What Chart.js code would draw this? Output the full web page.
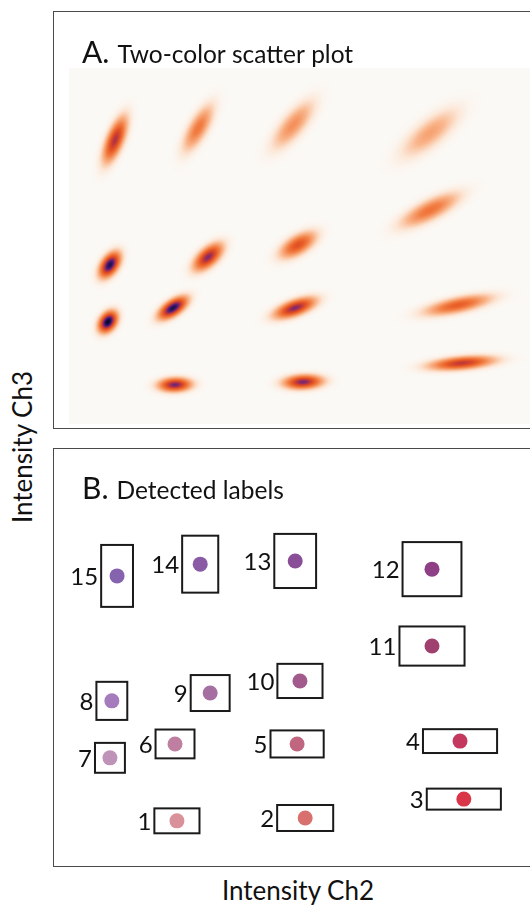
<!DOCTYPE html>
<html>
<head>
<meta charset="utf-8">
<script src="https://cdn.jsdelivr.net/npm/chart.js@4/dist/chart.umd.min.js"></script>
<style>
html,body{margin:0;padding:0;background:#fff;overflow:hidden;width:530px;height:906px}
#wrap{position:relative;width:530px;height:906px;overflow:hidden}
canvas{position:absolute}
.frame{position:absolute;box-sizing:border-box;border:1.5px solid #4a4a4a;pointer-events:none}
.atitle{position:absolute;font-family:Lato,sans-serif;font-size:26px;color:#111;white-space:nowrap;line-height:26px}
</style>
</head>
<body>
<div id="wrap">
<canvas id="chartA" width="490" height="416" style="left:54px;top:12px"></canvas>
<canvas id="chartB" width="490" height="416" style="left:56px;top:448px"></canvas>
<div class="frame" style="left:53px;top:11px;width:520px;height:418px"></div>
<div class="frame" style="left:53px;top:448px;width:520px;height:419px"></div>
<div class="atitle" id="ytitle" style="left:22px;top:447px;transform:translate(-50%,-50%) rotate(-90deg)">Intensity Ch3</div>
<div class="atitle" style="left:298px;top:890px;transform:translate(-50%,-50%)">Intensity Ch2</div>
</div>
<script>
// cluster labels and centres (intensity units, 0-100)
const labels = ["1","2","3","4","5","6","7","8","9","10","11","12","13","14","15"]
const ch2 = [22.3, 49.3, 82.7, 81.9, 47.6, 21.9, 8.2, 8.6, 29.3, 48.2, 76.0, 76.0, 47.2, 27.2, 9.7]
const ch3 = [11.0, 11.8, 17.1, 33.4, 32.6, 32.6, 28.7, 44.7, 46.9, 50.3, 60.1, 81.7, 84.0, 83.1, 79.8]

// spread of each cluster
const sd2 = [2.04, 2.40, 4.00, 4.09, 2.53, 1.75, 1.16, 1.30, 1.79, 2.24, 3.62, 3.56, 2.61, 1.90, 1.48]
const sd3 = [1.16, 1.18, 1.17, 1.70, 1.72, 1.83, 1.75, 2.10, 2.24, 2.19, 2.84, 4.06, 3.99, 3.85, 3.75]
const corr = [0.07, 0.12, 0.39, 0.64, 0.61, 0.62, 0.34, 0.48, 0.60, 0.60, 0.76, 0.75, 0.75, 0.72, 0.66]
const counts = [3000, 3500, 4500, 4000, 4200, 4000, 3300, 3800, 3900, 3300, 4000, 3300, 3000, 2900, 4600]

// detected label boxes (width / height, intensity units)
const boxW = [9.5, 11.8, 15.6, 15.6, 11.2, 8.2, 6.3, 6.5, 8.2, 9.5, 13.7, 12.4, 8.8, 7.6, 6.7]
const boxH = [7.0, 7.3, 5.9, 6.7, 7.6, 8.1, 8.4, 10.7, 10.1, 9.6, 11.0, 15.2, 15.2, 16.0, 17.4]

const labelColors = ["#d9929a","#d8706e","#d9364a","#c4385e","#c06680","#be7fa0","#bf92ba",
"#a57bbd","#a66fa2","#a25a8c","#a0406e","#8e3f86","#8a4e98","#8a5aa5","#8563ae"]

const points = ch2.map((v,i)=>({x:v, y:ch3[i]}))

// colour map for the density image
const stops = [
[0.00,[251,249,246]],
[0.05,[252,230,214]],
[0.15,[249,182,140]],
[0.30,[242,128,70]],
[0.45,[232,90,36]],
[0.60,[200,60,50]],
[0.72,[130,40,110]],
[0.85,[60,25,110]],
[1.00,[12,8,45]]
]
const vmax = 16

function colorAt(t){
for(let k=1;k<stops.length;k++){
if(t<=stops[k][0]){
const a=stops[k-1], b=stops[k]
const f=(t-a[0])/(b[0]-a[0])
return a[1].map((c,j)=>Math.round(c+(b[1][j]-c)*f))
}
}
return stops[stops.length-1][1]
}
const lut = Array.from({length:256},(_,i)=>colorAt(i/255))

const densityPlugin = {
id:'density',
beforeDatasetsDraw(chart){
const {ctx, chartArea:a, scales:{x,y}} = chart
const L=Math.round(a.left), T=Math.round(a.top)
const W=Math.round(a.right)-L, H=Math.round(a.bottom)-T
const grid=new Float32Array(W*H)
const kx=Math.abs(x.getPixelForValue(1)-x.getPixelForValue(0))
const ky=Math.abs(y.getPixelForValue(1)-y.getPixelForValue(0))
ch2.forEach((v,i)=>{
const cx=x.getPixelForValue(v)-L, cy=y.getPixelForValue(ch3[i])-T
const sx=sd2[i]*kx, sy=sd3[i]*ky, r=corr[i], q=1-r*r
const amp=counts[i]/(2*Math.PI*sx*sy*Math.sqrt(q))
const y0=Math.max(0,Math.floor(cy-5*sy)), y1=Math.min(H-1,Math.ceil(cy+5*sy))
const x0=Math.max(0,Math.floor(cx-5*sx)), x1=Math.min(W-1,Math.ceil(cx+5*sx))
for(let py=y0;py<=y1;py++){
const dy=(cy-(py+0.5))/sy
for(let px=x0;px<=x1;px++){
const dx=(px+0.5-cx)/sx
grid[py*W+px]+=amp*Math.exp(-(dx*dx-2*r*dx*dy+dy*dy)/(2*q))
}
}
})
const img=ctx.createImageData(W,H)
for(let k=0;k<grid.length;k++){
const c=lut[Math.min(255,Math.round(grid[k]/vmax*255))]
img.data[k*4]=c[0]; img.data[k*4+1]=c[1]; img.data[k*4+2]=c[2]; img.data[k*4+3]=255
}
ctx.putImageData(img,L,T)
}
}

const boxPlugin = {
id:'boxes',
afterDatasetsDraw(chart){
const {ctx, scales:{x,y}} = chart
ctx.save()
ctx.strokeStyle="#1a1a1a"
ctx.lineWidth=2
ctx.fillStyle="#111"
ctx.font="24px Lato"
ctx.textAlign="right"
ctx.textBaseline="middle"
labels.forEach((lab,i)=>{
const l=x.getPixelForValue(ch2[i]-boxW[i]/2), r=x.getPixelForValue(ch2[i]+boxW[i]/2)
const t=y.getPixelForValue(ch3[i]+boxH[i]/2), b=y.getPixelForValue(ch3[i]-boxH[i]/2)
ctx.strokeRect(l,t,r-l,b-t)
ctx.fillText(lab,l-3,(t+b)/2+1)
})
ctx.restore()
}
}

function panelTitle(letter, text, dx, dy){
return {
id:'ptitle',
afterDraw(chart){
const ctx=chart.ctx
ctx.save()
ctx.fillStyle="#111"
ctx.textBaseline="alphabetic"
ctx.font="30px Lato"
ctx.fillText(letter,28+dx,51+dy)
const w=ctx.measureText(letter).width
ctx.font="24.5px Lato"
ctx.fillText(text,28+dx+w+8,51+dy)
ctx.restore()
}
}
}

function baseOptions(){
return {
responsive:false,
animation:false,
layout:{autoPadding:false,padding:{left:15,top:56,right:0,bottom:4}},
plugins:{legend:{display:false},tooltip:{enabled:false}},
scales:{
x:{type:'linear',min:0,max:100,display:false},
y:{type:'linear',min:0,max:100,display:false}
}
}
}

new Chart(document.getElementById("chartA"),{
type:'scatter',
data:{datasets:[{label:"clusters",data:points,pointRadius:0}]},
options:baseOptions(),
plugins:[densityPlugin,panelTitle("A.","Two-color scatter plot",0,0)]
})

new Chart(document.getElementById("chartB"),{
type:'scatter',
data:{datasets:[{label:"Detected labels",data:points,pointRadius:7.5,pointBorderWidth:0,
backgroundColor:labelColors,pointBackgroundColor:labelColors}]},
options:baseOptions(),
plugins:[boxPlugin,panelTitle("B.","Detected labels",-2,0)]
})
</script>
</body>
</html>
